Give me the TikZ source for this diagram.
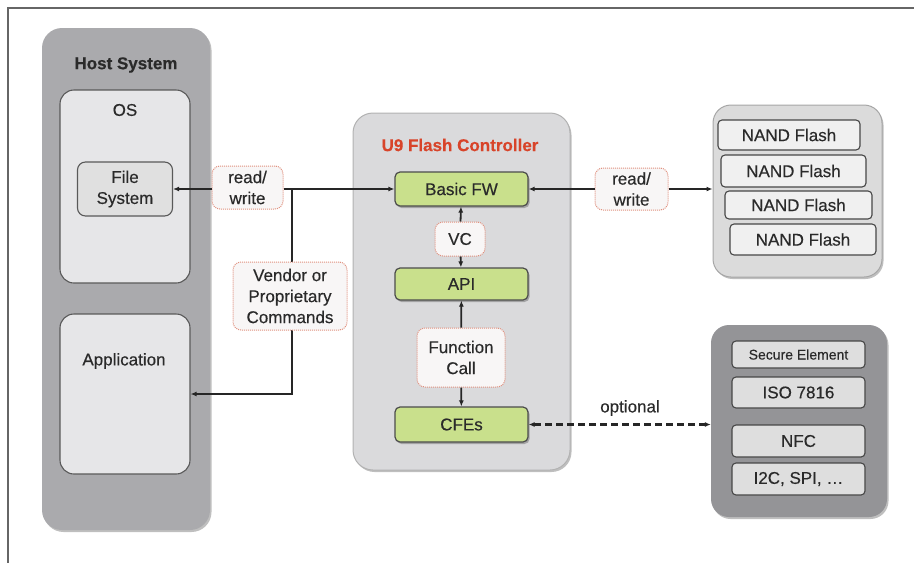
\documentclass[tikz,border=0pt]{standalone}
\usepackage{fontspec}
\setmainfont{Liberation Sans}[FakeBold=0.4]
\usetikzlibrary{arrows.meta,shadows}
\definecolor{hostgray}{HTML}{AAAAAD}
\definecolor{panelgray}{HTML}{E6E6E8}
\definecolor{ctrlgray}{HTML}{DADADC}
\definecolor{fwgreen}{HTML}{C9E08C}
\definecolor{notered}{HTML}{E0907E}
\definecolor{notefill}{HTML}{F8F6F6}
\definecolor{titlered}{HTML}{D8442A}
\definecolor{txtgray}{HTML}{2A2A2A}
\definecolor{secgray}{HTML}{949497}

\begin{document}
\begin{tikzpicture}[x=1pt,y=-1pt,
    font=\fontsize{17}{21}\selectfont, text=txtgray,
    shade/.style={drop shadow={shadow xshift=1.5pt,shadow yshift=-2pt,opacity=0.25,fill=black}},
    grp/.style={rounded corners=20pt,shade},
    panel/.style={draw=black!65,line width=1.1pt,fill=panelgray,rounded corners=14pt},
    fwbox/.style={draw=black!70,line width=1.2pt,fill=fwgreen,rounded corners=5pt,
        minimum width=133pt,shade},
    note/.style={draw=notered,densely dotted,line width=1pt,fill=notefill,
        rounded corners=8pt,align=center,inner sep=0pt},
    chip/.style={draw=black!72,line width=1.1pt,rounded corners=4pt,inner sep=0pt},
    link/.style={line width=1.8pt,draw=black!85,-{Latex[length=6pt,width=5pt]}}]
    \useasboundingbox (0,0) rectangle (914,563);
    \draw[black!60,line width=1.3pt] (914,8) -- (8,8) -- (8,563);

    % host side
    \node[grp,fill=hostgray,minimum width=168pt,minimum height=502pt] (host) at (126,279) {};
    \node[font=\fontsize{17}{21}\selectfont\bfseries] (hosttitle) at (126,65) {Host System};
    \node[panel,minimum width=130pt,minimum height=193pt] (os) at (125,186.5) {};
    \node (ostitle) at (125,110) {OS};
    \node[panel,fill=black!12,rounded corners=8pt,minimum width=95pt,minimum height=54pt,align=center,inner sep=0pt] (fs) at (125,189) {File\\System};
    \node[panel,minimum width=130pt,minimum height=160pt] (app) at (125,394) {};
    \node (apptitle) at (124,361) {Application};

    % flash controller
    \node[grp,draw=black!30,line width=1pt,fill=ctrlgray,minimum width=217pt,minimum height=357pt] (ctrl) at (461.5,291.5) {};
    \node[font=\fontsize{17}{21}\selectfont\bfseries,text=titlered] (ctrltitle) at (460,145) {U9 Flash Controller};
    \node[fwbox,minimum height=34pt] (bfw) at (461.5,189) {Basic FW};
    \node[note,minimum width=50pt,minimum height=34pt] (vc) at (460,239) {VC};
    \node[fwbox,minimum height=32pt] (api) at (461.5,284) {API};
    \node[note,minimum width=88pt,minimum height=59pt] (fcall) at (461,357.5) {Function\\Call};
    \node[fwbox,minimum height=35pt] (cfe) at (461.5,424.5) {CFEs};

    % read/write to host
    \node[note,minimum width=71pt,minimum height=43pt] (rwhost) at (247.5,187.5) {read/\\write};
    \coordinate (split) at (292,189);
    \draw[link] (rwhost.west |- fs.east) -- (fs.east);
    \draw[link] (rwhost.east |- bfw.west) -- (bfw.west);
    \draw[link] (split) |- (app.east);
    \node[note,minimum width=114pt,minimum height=68pt] (vendor) at (290,296) {Vendor or\\Proprietary\\Commands};

    \draw[link] (vc) -- (bfw);
    \draw[link] (vc) -- (api);
    \draw[link] (fcall) -- (api);
    \draw[link] (fcall) -- (cfe);

    % nand flash
    \node[grp,rounded corners=18pt,draw=black!35,line width=1pt,fill=black!14,minimum width=169pt,minimum height=172pt] (nand) at (797.5,191) {};
    \node[chip,fill=black!6,minimum width=142pt,minimum height=30pt] (nand1) at (789,135) {NAND Flash};
    \node[chip,fill=black!6,minimum width=145pt,minimum height=32pt] (nand2) at (793.5,171) {NAND Flash};
    \node[chip,fill=black!6,minimum width=147pt,minimum height=28pt] (nand3) at (798.5,205) {NAND Flash};
    \node[chip,fill=black!6,minimum width=146pt,minimum height=31pt] (nand4) at (803,239.5) {NAND Flash};
    \node[note,minimum width=73pt,minimum height=42pt] (rwnand) at (631.5,189) {read/\\write};
    \draw[link] (rwnand.west) -- (bfw.east);
    \draw[link] (rwnand.east) -- (nand.west |- rwnand.east);

    % secure element
    \node[grp,rounded corners=18pt,fill=secgray,minimum width=176pt,minimum height=192pt] (sec) at (799,421) {};
    \node[chip,fill=black!13,minimum width=133pt,minimum height=27pt,font=\fontsize{14}{17}\selectfont] (se) at (798.5,354.5) {Secure Element};
    \node[chip,fill=black!13,minimum width=133pt,minimum height=31pt] (iso) at (798.5,392.5) {ISO 7816};
    \node[chip,fill=black!13,minimum width=133pt,minimum height=32pt] (nfc) at (798.5,441) {NFC};
    \node[chip,fill=black!13,minimum width=133pt,minimum height=32pt] (bus) at (798.5,479) {I2C, SPI, \dots};
    \draw[link,{Latex[length=6pt,width=5pt]}-{Latex[length=6pt,width=5pt]},line width=2.2pt,dash pattern=on 7pt off 4pt] (cfe.east) -- (sec.west |- cfe.east);
    \node (optional) at (630,408) {optional};
\end{tikzpicture}
\end{document}
